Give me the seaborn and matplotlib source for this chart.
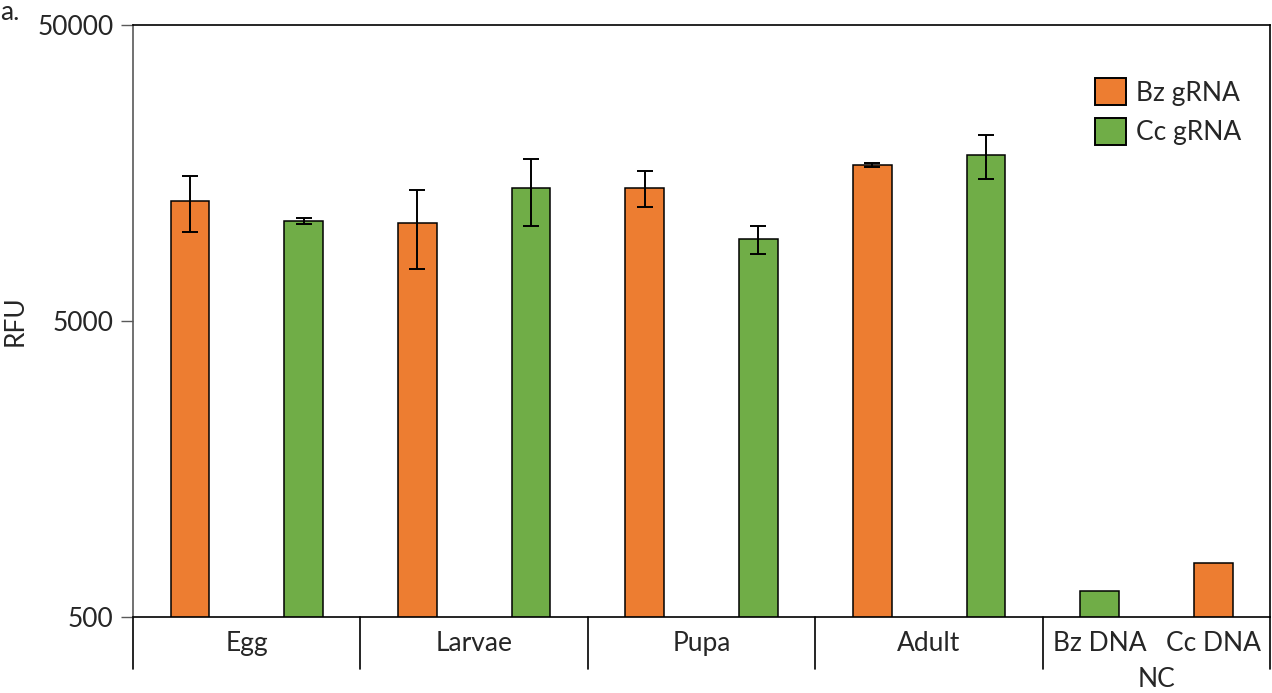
import pandas as pd
import matplotlib.pyplot as plt
import matplotlib.transforms as mtransforms
from matplotlib.patches import Patch
from matplotlib.ticker import FixedLocator, NullLocator
import seaborn as sns

# values (RFU, log axis)
stages = ['Egg', 'Larvae', 'Pupa', 'Adult']
bz_grna = [12700, 10700, 14100, 16830]
bz_grna_sd = [2700, 3200, 1970, 220]
cc_grna = [10890, 14100, 9440, 18190]
cc_grna_sd = [260, 3600, 1000, 3050]
nc_labels = ['Bz DNA', 'Cc DNA']
nc_values = [612, 759]
nc_colour = ['Cc gRNA', 'Bz gRNA']  # Bz DNA drawn green, Cc DNA orange
series = ['Bz gRNA', 'Cc gRNA']
colours = {'Bz gRNA': '#ED7D31', 'Cc gRNA': '#70AD47'}

rows = []
for i, st in enumerate(stages):
    rows.append({'slot': st + ' Bz', 'series': 'Bz gRNA', 'value': bz_grna[i], 'sd': bz_grna_sd[i]})
    rows.append({'slot': st + ' Cc', 'series': 'Cc gRNA', 'value': cc_grna[i], 'sd': cc_grna_sd[i]})
for lab, v, c in zip(nc_labels, nc_values, nc_colour):
    rows.append({'slot': 'NC ' + lab, 'series': c, 'value': v, 'sd': 0})
df = pd.DataFrame(rows)

sns.set_style('ticks')
plt.rcParams['font.family'] = ['Lato', 'DejaVu Sans']
fs = 19
plt.rcParams['font.size'] = fs

fig = plt.figure(figsize=(12.72, 6.93), dpi=100)
ax = fig.add_axes([0.1046, 0.1097, 0.8940, 0.8542])

sns.barplot(data=df, x='slot', y='value', hue='series', hue_order=series,
            palette=colours, saturation=1, dodge=False, width=0.34, edgecolor='black',
            linewidth=1.1, legend=False, ax=ax, errorbar=None)

sub = df[df['sd'] > 0]
pos = [list(df['slot']).index(s) for s in sub['slot']]
ax.errorbar(pos, sub['value'], yerr=sub['sd'], fmt='none', ecolor='black',
            elinewidth=1.4, capsize=6, capthick=1.4, zorder=5)

ax.set_yscale('log')
ax.set_ylim(500, 50000)
ax.set_xlim(-0.5, len(df) - 0.5)
ax.yaxis.set_major_locator(FixedLocator([500, 5000, 50000]))
ax.yaxis.set_minor_locator(NullLocator())
ax.set_yticklabels(['500', '5000', '50000'])
ax.tick_params(axis='y', length=9, width=1, color='#595959', labelsize=fs, pad=5)
ax.tick_params(axis='x', length=0, labelbottom=False)
ax.set_xlabel('')
ax.set_ylabel('RFU', fontsize=fs)
ax.yaxis.set_label_coords(-0.093, 0.5)

for side in ['top', 'right', 'bottom']:
    ax.spines[side].set_color('black')
    ax.spines[side].set_linewidth(1.2)
ax.spines['left'].set_color('#595959')
ax.spines['left'].set_linewidth(1.2)

# multi-level category axis
trans = mtransforms.blended_transform_factory(ax.transData, ax.transAxes)
for b in [-0.5, 1.5, 3.5, 5.5, 7.5, 9.5]:
    ax.plot([b, b], [0, -0.088], transform=trans, color='black', lw=1.2, clip_on=False)
for i, st in enumerate(stages):
    ax.text(2 * i + 0.5, -0.044, st, transform=trans, ha='center', va='center', fontsize=fs)
for j, lab in enumerate(nc_labels):
    ax.text(8 + j, -0.044, lab, transform=trans, ha='center', va='center', fontsize=fs)
ax.text(8.5, -0.106, 'NC', transform=trans, ha='center', va='center', fontsize=fs)

handles = [Patch(facecolor=colours[s], edgecolor='black', linewidth=1.4, label=s) for s in series]
ax.legend(handles=handles, loc='upper right', bbox_to_anchor=(0.995, 0.95), frameon=False,
          fontsize=fs, handlelength=1.2, handleheight=1.2, labelspacing=0.45, handletextpad=0.35)

fig.text(0.0, 1.0, 'a.', ha='left', va='top', fontsize=fs)

fig.savefig('out.png', dpi=100)
